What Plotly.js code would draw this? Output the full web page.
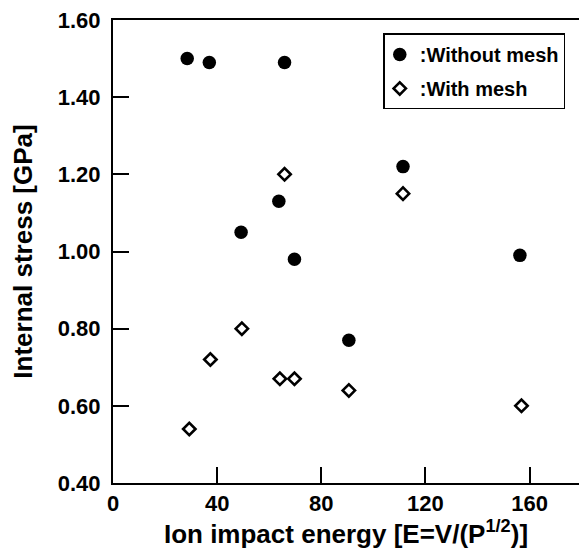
<!DOCTYPE html>
<html>
<head>
<meta charset="utf-8">
<script src="https://cdn.plot.ly/plotly-3.0.1.min.js"></script>
<style>html,body{margin:0;padding:0;background:#fff;}</style>
</head>
<body>
<div id="chart" style="width:579px;height:549px;"></div>
<script>
// Without mesh (filled circles)
const withoutX = [28.5, 37.0, 65.9, 63.7, 49.2, 69.7, 111.4, 156.3, 90.6];
const withoutY = [1.50, 1.49, 1.49, 1.13, 1.05, 0.98, 1.22, 0.99, 0.77];
// With mesh (open diamonds)
const withX = [65.9, 111.4, 49.5, 37.4, 29.3, 64.1, 69.7, 90.6, 156.9];
const withY = [1.20, 1.15, 0.80, 0.72, 0.54, 0.67, 0.67, 0.64, 0.60];
const xTicks = [0, 40, 80, 120, 160];
const yTicks = [0.40, 0.60, 0.80, 1.00, 1.20, 1.40, 1.60];
const yTickText = ["0.40", "0.60", "0.80", "1.00", "1.20", "1.40", "1.60"];

const FONT = "Liberation Sans, Arial, Helvetica, sans-serif";

const traces = [
  {
    x: withoutX, y: withoutY, type: "scatter", mode: "markers",
    name: ":Without mesh", legendgroup: "a",
    marker: {symbol: "circle", size: 13.5, color: "#000"}
  },
  {
    x: withX, y: withY, type: "scatter", mode: "markers",
    name: ":With mesh", legendgroup: "b",
    marker: {symbol: "diamond-open", size: 9.5, color: "#000", line: {width: 2.6, color: "#000"}}
  }
];

const layout = {
  width: 579, height: 549,
  margin: {l: 113, r: 0, t: 20, b: 66},
  paper_bgcolor: "#fff", plot_bgcolor: "#fff",
  showlegend: true,
  legend: {
    x: 0.58, y: 0.971, xanchor: "left", yanchor: "top",
    bordercolor: "#000", borderwidth: 1.5, bgcolor: "#fff",
    font: {family: FONT, size: 20, color: "#000", weight: "bold"},
    tracegroupgap: 5, itemwidth: 30, indentation: -5
  },
  xaxis: {
    range: [0, 179], tickvals: xTicks, ticks: "inside", ticklen: 16, tickwidth: 2,
    tickcolor: "#000", showline: true, linecolor: "#000", linewidth: 2, mirror: true,
    showgrid: false, zeroline: false,
    tickfont: {family: FONT, size: 22, color: "#000", weight: "bold"},
    title: {text: "Ion impact energy [E=V/(P<sup>1/2</sup>)]", standoff: 0,
            font: {family: FONT, size: 26, color: "#000", weight: "bold"}}
  },
  yaxis: {
    range: [0.4, 1.6], tickvals: yTicks, ticktext: yTickText, ticks: "inside", ticklen: 16, tickwidth: 2,
    tickcolor: "#000", showline: true, linecolor: "#000", linewidth: 2, mirror: false,
    showgrid: false, zeroline: false, ticklabelstandoff: 6,
    tickfont: {family: FONT, size: 22, color: "#000", weight: "bold"},
    title: {text: "Internal stress [GPa]", standoff: 18,
            font: {family: FONT, size: 26, color: "#000", weight: "bold"}}
  }
};

Plotly.newPlot("chart", traces, layout, {displayModeBar: false, staticPlot: true});
</script>
</body>
</html>
